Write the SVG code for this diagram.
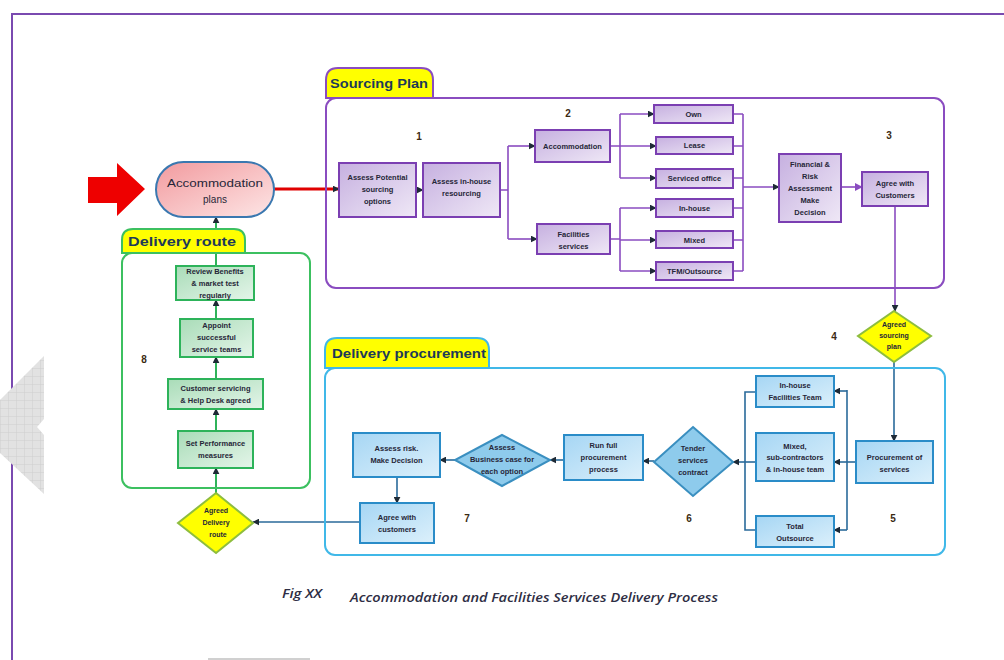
<svg xmlns="http://www.w3.org/2000/svg" width="1004" height="660" viewBox="0 0 1004 660">
<defs>
<linearGradient id="gP" x1="0" y1="0" x2="1" y2="1"><stop offset="0" stop-color="#c6b0e0"/><stop offset="1" stop-color="#efe8f6"/></linearGradient>
<linearGradient id="gG" x1="0" y1="0" x2="1" y2="1"><stop offset="0" stop-color="#a9dcb8"/><stop offset="1" stop-color="#e4f5e9"/></linearGradient>
<linearGradient id="gB" x1="0" y1="0" x2="1" y2="1"><stop offset="0" stop-color="#a6d6f4"/><stop offset="1" stop-color="#dcf0fb"/></linearGradient>
<linearGradient id="gR" x1="0" y1="0" x2="1" y2="1"><stop offset="0" stop-color="#f29a9e"/><stop offset="1" stop-color="#fde6e6"/></linearGradient>
<pattern id="grid" width="8" height="8" patternUnits="userSpaceOnUse"><rect width="8" height="8" fill="#e2e2e2"/><path d="M0 0H8M0 0V8" stroke="#cfcfcf" stroke-width="1"/></pattern>
<marker id="ah" viewBox="0 0 10 10" refX="9" refY="5" markerWidth="7" markerHeight="7" markerUnits="userSpaceOnUse" orient="auto"><path d="M0 0L10 5L0 10z" fill="#1e2a36"/></marker>
<marker id="ahP" viewBox="0 0 10 10" refX="9" refY="5" markerWidth="8" markerHeight="8" markerUnits="userSpaceOnUse" orient="auto"><path d="M0 0L10 5L0 10z" fill="#8a4cc0"/></marker>
</defs>
<style>
.bp{fill:url(#gP);stroke:#7b3fb2;stroke-width:2}
.bg{fill:url(#gG);stroke:#2db35a;stroke-width:2}
.bb{fill:url(#gB);stroke:#2a8cc8;stroke-width:2}
.dy{fill:#ffff00;stroke:#8ebd3e;stroke-width:2}
.db{fill:#8ecbec;stroke:#3a8fc0;stroke-width:2}
.t{font-family:"Liberation Sans",Arial,sans-serif;font-size:7.5px;font-weight:bold;fill:#262638;text-anchor:middle}
.ts{font-size:7px}
.pl{font-family:"Liberation Sans",Arial,sans-serif;font-size:10px;fill:#262638;text-anchor:middle}
.n{font-family:"Liberation Sans",Arial,sans-serif;font-size:10px;font-weight:bold;fill:#3a2a12;text-anchor:middle}
.tab{font-family:"Liberation Sans",Arial,sans-serif;font-size:13px;font-weight:bold;fill:#1d3a58}
.cb{fill:none;stroke:#2a6a9a;stroke-width:1.6}
.cg{fill:none;stroke:#2fb35a;stroke-width:2}
.cpl{fill:none;stroke:#8a4cc0;stroke-width:1.6}
</style>
<rect width="1004" height="660" fill="#ffffff"/>
<path d="M12 660V14H1004" fill="none" stroke="#7a4ab0" stroke-width="2"/>
<path d="M44 356V419L37 427L44 435V494L0 453V400Z" fill="url(#grid)"/>
<path d="M208 659H310" stroke="#d0d0d0" stroke-width="2"/>

<g id="connectors">
<path d="M274 189H339" stroke="#e00000" stroke-width="3" fill="none" marker-end="url(#ah)"/>
<path class="cpl" d="M416 190H423" marker-end="url(#ah)"/>
<path class="cpl" d="M500 190H508M508 146V239"/>
<path class="cpl" d="M508 146H535" marker-end="url(#ah)"/>
<path class="cpl" d="M508 239H537" marker-end="url(#ah)"/>
<path class="cpl" d="M610 146H620M620 114V178M610 239H620M620 208V271"/>
<path class="cpl" d="M620 114H654" marker-end="url(#ah)"/>
<path class="cpl" d="M620 146H656" marker-end="url(#ah)"/>
<path class="cpl" d="M620 178H656" marker-end="url(#ah)"/>
<path class="cpl" d="M620 208H656" marker-end="url(#ah)"/>
<path class="cpl" d="M620 240H656" marker-end="url(#ah)"/>
<path class="cpl" d="M620 271H656" marker-end="url(#ah)"/>
<path class="cpl" d="M733 114H743M733 146H743M733 178H743M733 208H743M733 240H743M733 271H743M743 114V271"/>
<path class="cpl" d="M743 187H779" marker-end="url(#ah)"/>
<path class="cpl" d="M841 187H862" marker-end="url(#ahP)"/>
<path class="cpl" d="M895 206V311" marker-end="url(#ah)"/>
<path class="cb" d="M894 362V441" marker-end="url(#ah)"/>
<path class="cb" d="M856 462H834" marker-end="url(#ah)"/>
<path class="cb" d="M847 390V530"/>
<path class="cb" d="M847 391H834" marker-end="url(#ah)"/>
<path class="cb" d="M847 530H834" marker-end="url(#ah)"/>
<path class="cb" d="M756 392H745V530H756"/>
<path class="cb" d="M756 462H733" marker-end="url(#ah)"/>
<path class="cb" d="M654 461H643" marker-end="url(#ah)"/>
<path class="cb" d="M564 460H550" marker-end="url(#ah)"/>
<path class="cb" d="M455 460H440" marker-end="url(#ah)"/>
<path class="cb" d="M397 477V503" marker-end="url(#ah)"/>
<path class="cb" d="M360 522H253" marker-end="url(#ah)"/>
<path class="cg" d="M216 493V468" marker-end="url(#ah)"/>
<path class="cg" d="M216 431V409" marker-end="url(#ah)"/>
<path class="cg" d="M216 379V357" marker-end="url(#ah)"/>
<path class="cg" d="M216 319V300" marker-end="url(#ah)"/>
<path class="cg" d="M216 266V217" marker-end="url(#ah)"/>
</g>

<g id="sourcing-plan">
<path d="M326 98V80Q326 68 338 68H421Q433 68 433 80V98Z" fill="#ffff00" stroke="#8a4cc0" stroke-width="2"/>
<rect x="326" y="98" width="618" height="190" rx="10" fill="none" stroke="#8a4cc0" stroke-width="2"/>
<text class="tab" x="330" y="88" textLength="98" lengthAdjust="spacingAndGlyphs">Sourcing Plan</text>
</g>
<g id="delivery-route">
<path d="M122 253V240Q122 229 133 229H234Q245 229 245 240V253Z" fill="#ffff00" stroke="#3cc060" stroke-width="2"/>
<rect x="122" y="253" width="188" height="235" rx="10" fill="none" stroke="#3cc060" stroke-width="2"/>
<text class="tab" x="128" y="246" textLength="108" lengthAdjust="spacingAndGlyphs">Delivery  route</text>
</g>
<g id="delivery-procurement">
<path d="M325 368V350Q325 338 337 338H477Q489 338 489 350V368Z" fill="#ffff00" stroke="#40b8e8" stroke-width="2"/>
<rect x="325" y="368" width="620" height="187" rx="10" fill="none" stroke="#40b8e8" stroke-width="2"/>
<text class="tab" x="332" y="358" textLength="154" lengthAdjust="spacingAndGlyphs">Delivery procurement</text>
</g>

<g id="red-arrow"><path d="M88 177H117V163L145 189L117 216V203H88Z" fill="#ee0000"/></g>
<g id="accommodation-plans">
<rect x="156" y="162" width="118" height="55" rx="27.5" fill="url(#gR)" stroke="#3a78b0" stroke-width="2"/>
<text class="pl" x="215" y="187" textLength="96" lengthAdjust="spacingAndGlyphs">Accommodation</text>
<text class="pl" x="215" y="203">plans</text>
</g>

<g id="assess-potential"><rect class="bp" x="339" y="163" width="77" height="54"/>
<text class="t" x="377.5" y="180">Assess Potential</text><text class="t" x="377.5" y="192">sourcing</text><text class="t" x="377.5" y="204">options</text></g>
<g id="assess-inhouse"><rect class="bp" x="423" y="163" width="77" height="54"/>
<text class="t" x="461.5" y="184">Assess  in-house</text><text class="t" x="461.5" y="196">resourcing</text></g>
<g id="accommodation"><rect class="bp" x="535" y="130" width="75" height="32"/>
<text class="t" x="572.5" y="148.5">Accommodation</text></g>
<g id="facilities-services"><rect class="bp" x="537" y="224" width="73" height="30"/>
<text class="t" x="573.5" y="237">Facilities</text><text class="t" x="573.5" y="249">services</text></g>
<g id="own"><rect class="bp" x="654" y="105" width="79" height="18"/><text class="t" x="693.5" y="116.5">Own</text></g>
<g id="lease"><rect class="bp" x="656" y="137" width="77" height="17"/><text class="t" x="694.5" y="148">Lease</text></g>
<g id="serviced-office"><rect class="bp" x="656" y="169" width="77" height="19"/><text class="t" x="694.5" y="181">Serviced   office</text></g>
<g id="in-house"><rect class="bp" x="656" y="199" width="77" height="18"/><text class="t" x="694.5" y="210.5">In-house</text></g>
<g id="mixed"><rect class="bp" x="656" y="231" width="77" height="17"/><text class="t" x="694.5" y="242.5">Mixed</text></g>
<g id="tfm-outsource"><rect class="bp" x="656" y="262" width="77" height="18"/><text class="t" x="694.5" y="273.5">TFM/Outsource</text></g>
<g id="financial-risk"><rect class="bp" x="779" y="154" width="62" height="68"/>
<text class="t" x="810" y="167">Financial  &amp;</text><text class="t" x="810" y="179">Risk</text><text class="t" x="810" y="191">Assessment</text><text class="t" x="810" y="203">Make</text><text class="t" x="810" y="215">Decision</text></g>
<g id="agree-customers-1"><rect class="bp" x="862" y="172" width="66" height="34"/>
<text class="t" x="895" y="186">Agree with</text><text class="t" x="895" y="198">Customers</text></g>

<g id="agreed-sourcing-plan"><path class="dy" d="M894 311L931 336L894 362L858 336Z"/>
<text class="t ts" x="894" y="327">Agreed</text><text class="t ts" x="894" y="338">sourcing</text><text class="t ts" x="894" y="349">plan</text></g>

<g id="procurement-services"><rect class="bb" x="856" y="441" width="77" height="42"/>
<text class="t" x="894.5" y="460">Procurement of</text><text class="t" x="894.5" y="472">services</text></g>
<g id="inhouse-team"><rect class="bb" x="756" y="376" width="78" height="31"/>
<text class="t" x="795" y="388">In-house</text><text class="t" x="795" y="400">Facilities  Team</text></g>
<g id="mixed-team"><rect class="bb" x="756" y="433" width="78" height="48"/>
<text class="t" x="795" y="449">Mixed,</text><text class="t" x="795" y="460">sub-contractors</text><text class="t" x="795" y="472">&amp; in-house team</text></g>
<g id="total-outsource"><rect class="bb" x="756" y="516" width="78" height="31"/>
<text class="t" x="795" y="529">Total</text><text class="t" x="795" y="541">Outsource</text></g>
<g id="tender"><path class="db" d="M693 427L733 462L693 496L654 462Z"/>
<text class="t" x="693" y="451">Tender</text><text class="t" x="693" y="463">services</text><text class="t" x="693" y="475">contract</text></g>
<g id="run-full"><rect class="bb" x="564" y="435" width="79" height="45"/>
<text class="t" x="603.5" y="448">Run full</text><text class="t" x="603.5" y="460">procurement</text><text class="t" x="603.5" y="472">process</text></g>
<g id="assess-business"><path class="db" d="M502 435L550 460L502 486L455 460Z"/>
<text class="t" x="502" y="450">Assess</text><text class="t" x="502" y="462">Business case for</text><text class="t" x="502" y="474">each  option</text></g>
<g id="assess-risk"><rect class="bb" x="353" y="433" width="87" height="44"/>
<text class="t" x="396.5" y="451">Assess  risk.</text><text class="t" x="396.5" y="463">Make  Decision</text></g>
<g id="agree-customers-2"><rect class="bb" x="360" y="503" width="74" height="40"/>
<text class="t" x="397" y="520">Agree with</text><text class="t" x="397" y="532">customers</text></g>

<g id="agreed-delivery-route"><path class="dy" d="M216 493L253 523L216 553L178 523Z"/>
<text class="t ts" x="216" y="513">Agreed</text><text class="t ts" x="216" y="525">Delivery</text><text class="t ts" x="218" y="537">route</text></g>
<g id="set-performance"><rect class="bg" x="178" y="431" width="75" height="37"/>
<text class="t" x="215.5" y="446">Set  Performance</text><text class="t" x="215.5" y="458">measures</text></g>
<g id="customer-servicing"><rect class="bg" x="168" y="379" width="95" height="30"/>
<text class="t" x="215.5" y="391">Customer servicing</text><text class="t" x="215.5" y="403">&amp; Help Desk agreed</text></g>
<g id="appoint"><rect class="bg" x="180" y="319" width="73" height="38"/>
<text class="t" x="216.5" y="328">Appoint</text><text class="t" x="216.5" y="340">successful</text><text class="t" x="216.5" y="352">service teams</text></g>
<g id="review"><rect class="bg" x="176" y="266" width="78" height="34"/>
<text class="t" x="215" y="274">Review  Benefits</text><text class="t" x="215" y="286">&amp; market  test</text><text class="t" x="215" y="298">regularly</text></g>

<g id="numbers">
<text class="n" x="419" y="140">1</text><text class="n" x="568" y="117">2</text><text class="n" x="889" y="139">3</text>
<text class="n" x="834" y="340">4</text><text class="n" x="893" y="522">5</text><text class="n" x="689" y="522">6</text>
<text class="n" x="467" y="522">7</text><text class="n" x="144" y="363">8</text>
</g>
<g id="caption" font-family="'Open Sans','Liberation Sans',sans-serif" font-style="italic" font-weight="600" fill="#2e2e44" font-size="12">
<text x="282" y="598" textLength="40" lengthAdjust="spacingAndGlyphs">Fig XX</text>
<text x="350" y="602" textLength="368" lengthAdjust="spacingAndGlyphs">Accommodation  and Facilities Services Delivery Process</text>
</g>
</svg>
